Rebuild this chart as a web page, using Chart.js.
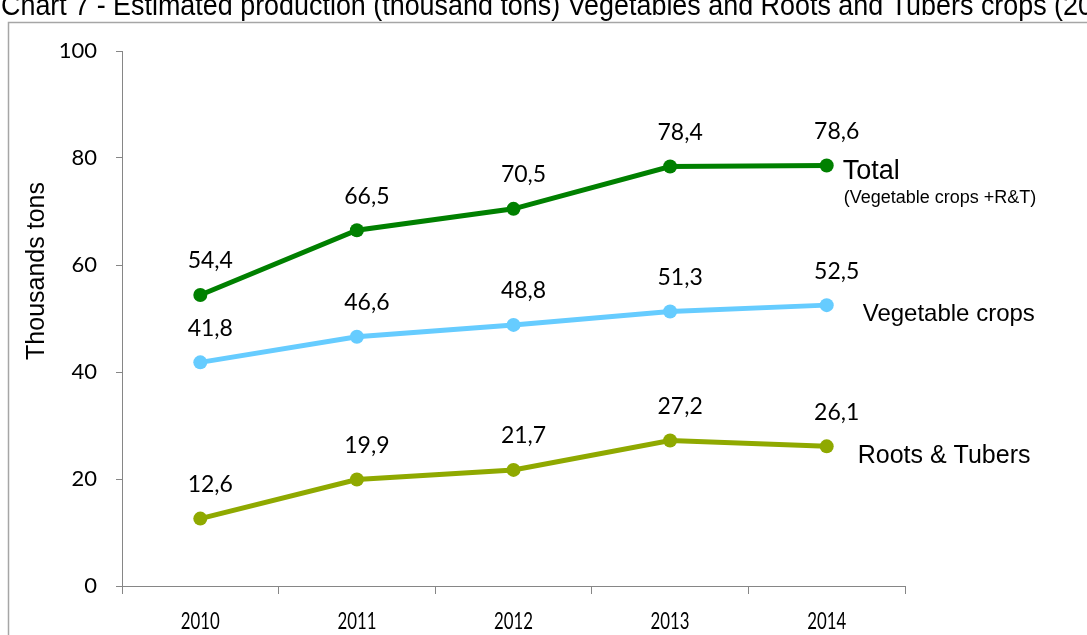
<!DOCTYPE html>
<html>
<head>
<meta charset="utf-8">
<script src="https://cdn.jsdelivr.net/npm/chart.js@4.4.1/dist/chart.umd.min.js"></script>
<style>
  html, body { margin: 0; padding: 0; background: #fff; overflow: hidden; }
  #wrap { position: relative; width: 1087px; height: 635px; }
</style>
</head>
<body>
<div id="wrap"><canvas id="chart" width="1087" height="635"></canvas></div>
<script>
const years = ["2010", "2011", "2012", "2013", "2014"];
const totalValues = [54.4, 66.5, 70.5, 78.4, 78.6];
const vegetableValues = [41.8, 46.6, 48.8, 51.3, 52.5];
const rootsValues = [12.6, 19.9, 21.7, 27.2, 26.1];
const yTicks = [0, 20, 40, 60, 80, 100];

const titleText = "Chart 7 - Estimated production (thousand tons) Vegetables and Roots and Tubers crops (2010-2014)";
const axisColor = "#868686";

// comma decimals like the original
function fmt(v) {
    return v.toFixed(1).replace(".", ",");
}

// text squeezed sideways (the original uses narrow fonts)
function narrowText(ctx, text, x, y, sx) {
    ctx.save();
    ctx.translate(x, y);
    ctx.scale(sx, 1);
    ctx.fillText(text, 0, 0);
    ctx.restore();
}

const extrasPlugin = {
    id: "extras",
    afterDraw(chart) {
        const ctx = chart.ctx;
        ctx.save();

        // frame of the chart box
        ctx.strokeStyle = "#a6a6a6";
        ctx.lineWidth = 1.5;
        ctx.beginPath();
        ctx.moveTo(8.5, 640);
        ctx.lineTo(8.5, 22.5);
        ctx.lineTo(1090, 22.5);
        ctx.stroke();

        // title, cut off at the top like the picture
        ctx.fillStyle = "#000";
        ctx.font = "29px 'Liberation Sans', Arial, sans-serif";
        ctx.textAlign = "left";
        ctx.textBaseline = "alphabetic";
        const cut = "Chart 7 - Estimated production (thousand tons) Vegetables and Roots and Tubers crops (20";
        const w = ctx.measureText(cut).width;
        narrowText(ctx, titleText, 1, 15, 1092 / w);

        // y axis title
        ctx.save();
        ctx.translate(37, 271);
        ctx.rotate(-Math.PI / 2);
        ctx.font = "25px 'Liberation Sans', Arial, sans-serif";
        ctx.textAlign = "center";
        ctx.textBaseline = "middle";
        ctx.fillText("Thousands tons", 0, 0);
        ctx.restore();

        // x labels, narrow
        const xs = chart.scales.x;
        ctx.font = "24px Lato, 'Open Sans', sans-serif";
        ctx.textAlign = "center";
        ctx.textBaseline = "middle";
        years.forEach((y, i) => {
            narrowText(ctx, y, xs.getPixelForValue(i), 621, 0.7);
        });

        // data labels above the points
        ctx.font = "23px Lato, 'Open Sans', sans-serif";
        ctx.textAlign = "center";
        ctx.textBaseline = "middle";
        chart.data.datasets.forEach((ds, i) => {
            const meta = chart.getDatasetMeta(i);
            meta.data.forEach((pt, j) => {
                ctx.fillText(fmt(ds.data[j]), pt.x + 10, pt.y - 34);
            });
        });

        // series names at the right end
        const last = years.length - 1;
        const pTot = chart.getDatasetMeta(0).data[last];
        const pVeg = chart.getDatasetMeta(1).data[last];
        const pRoot = chart.getDatasetMeta(2).data[last];
        ctx.textAlign = "left";
        ctx.font = "27px 'Liberation Sans', Arial, sans-serif";
        ctx.fillText("Total", pTot.x + 16, pTot.y + 6);
        ctx.font = "18px 'Liberation Sans', Arial, sans-serif";
        ctx.fillText("(Vegetable crops +R&T)", pTot.x + 17, pTot.y + 33);
        ctx.font = "24px 'Liberation Sans', Arial, sans-serif";
        ctx.fillText("Vegetable crops", pVeg.x + 36, pVeg.y + 9);
        ctx.font = "25px 'Liberation Sans', Arial, sans-serif";
        ctx.fillText("Roots & Tubers", pRoot.x + 31, pRoot.y + 10);

        ctx.restore();
    }
};

const ctx = document.getElementById("chart");
const chart = new Chart(ctx, {
    type: "line",
    data: {
        labels: years,
        datasets: [
            { label: "Total", data: totalValues, borderColor: "#008000", backgroundColor: "#008000" },
            { label: "Vegetable crops", data: vegetableValues, borderColor: "#66ccff", backgroundColor: "#66ccff" },
            { label: "Roots & Tubers", data: rootsValues, borderColor: "#8fa900", backgroundColor: "#8fa900" }
        ]
    },
    options: {
        responsive: false,
        animation: false,
        devicePixelRatio: 1,
        layout: { padding: { top: 51, right: 182, left: 0, bottom: 0 } },
        elements: {
            line: { borderWidth: 5, tension: 0 },
            point: { radius: 7, borderWidth: 0, hoverRadius: 7 }
        },
        plugins: {
            legend: { display: false },
            title: { display: false },
            tooltip: { enabled: false }
        },
        scales: {
            x: {
                offset: true,
                grid: {
                    offset: true,
                    drawOnChartArea: false,
                    drawTicks: true,
                    tickLength: 8,
                    color: axisColor
                },
                border: { display: true, color: axisColor, width: 1 },
                ticks: { display: false },
                afterFit(scale) { scale.height = 49; }
            },
            y: {
                min: 0,
                max: 100,
                afterBuildTicks(scale) {
                    scale.ticks = yTicks.map(v => ({ value: v }));
                },
                grid: {
                    drawOnChartArea: false,
                    drawTicks: true,
                    tickLength: 6,
                    color: axisColor
                },
                border: { display: true, color: axisColor, width: 1 },
                ticks: {
                    color: "#000",
                    padding: 19,
                    font: { family: "Lato, 'Open Sans', sans-serif", size: 22 }
                },
                afterFit(scale) { scale.width = 122; }
            }
        }
    },
    plugins: [extrasPlugin]
});
</script>
</body>
</html>
